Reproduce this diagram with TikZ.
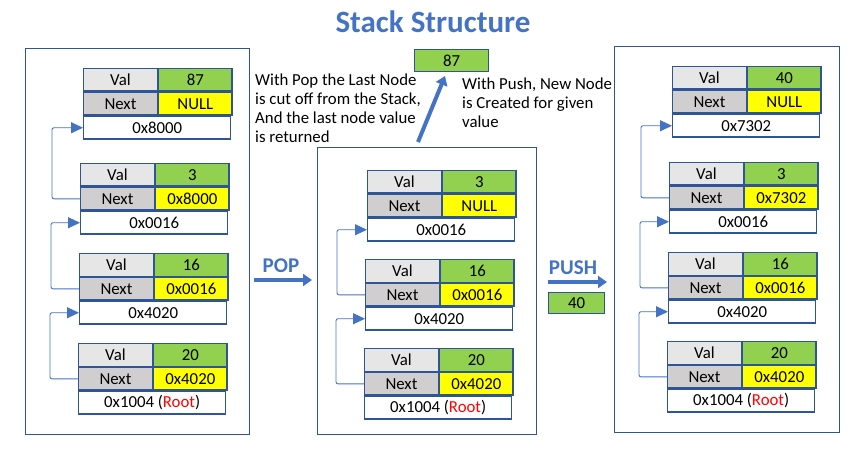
\documentclass[tikz,border=0pt]{standalone}
\usepackage{fontspec}
\setmainfont{Carlito}
\usepackage{tikz}
\usetikzlibrary{calc}
\usetikzlibrary{arrows.meta}

\definecolor{linkblue}{HTML}{4472C4}
\definecolor{edgeblue}{HTML}{2F5597}
\definecolor{valgray}{HTML}{E7E6E6}
\definecolor{nextgray}{HTML}{D0CECE}
\definecolor{valgreen}{HTML}{92D050}
\definecolor{ptryellow}{HTML}{FFFF00}

\begin{document}
\begin{tikzpicture}[x=1pt, y=-1pt,
  cell/.style={draw=edgeblue, line width=1.4pt, minimum width=73.5pt, minimum height=22.5pt,
    inner sep=0pt, anchor=north west, font=\fontsize{16.8}{19}\selectfont},
  frame/.style={draw=edgeblue, line width=1pt},
  link/.style={linkblue, line width=0.9pt, rounded corners=2pt, -{Triangle[length=12pt,width=11pt]}},
  big/.style={linkblue, line width=4pt, -{Triangle[length=9pt,width=12pt]}},
  note/.style={align=left, anchor=north west, inner sep=0pt, font=\fontsize{16.8}{19}\selectfont},
  oplabel/.style={text=linkblue, font=\fontsize{21}{24}\selectfont\bfseries, inner sep=0pt}]

\useasboundingbox (0,0) rectangle (865,457);

\node[text=linkblue, font=\fontsize{31}{36}\selectfont\bfseries] (title) at (433,22) {Stack Structure};

% the three stacks
\draw[frame] (25,49) rectangle (249,434);
\draw[frame] (317,148) rectangle (536,434);
\draw[frame] (614,47) rectangle (839,432);

\foreach \n/\x/\y/\v/\p/\a in {
  a1/83/68/87/NULL/0x8000, a2/80/163/3/0x8000/0x0016, a3/79/253/16/0x0016/0x4020,
  a4/78/343/20/0x4020/{0x1004 (\textcolor{red}{Root})},
  b1/367/170/3/NULL/0x0016, b2/365/259/16/0x0016/0x4020,
  b3/364/348/20/0x4020/{0x1004 (\textcolor{red}{Root})},
  c1/672/66/40/NULL/0x7302, c2/669/162/3/0x7302/0x0016, c3/668/252/16/0x0016/0x4020,
  c4/667/341/20/0x4020/{0x1004 (\textcolor{red}{Root})}}
{
  \node[cell, fill=valgray] (\n-vl) at (\x,\y) {Val};
  \node[cell, fill=valgreen] (\n-vv) at (\n-vl.north east) {\v};
  \node[cell, fill=nextgray] (\n-nl) at (\n-vl.south west) {Next};
  \node[cell, fill=ptryellow] (\n-nv) at (\n-nl.north east) {\p};
  \node[cell, minimum width=147pt] (\n-ad) at (\n-nl.south west) {\a};
}

% next pointers
\foreach \s/\t in {a2/a1, a3/a2, a4/a3, b2/b1, b3/b2, c2/c1, c3/c2, c4/c3}
  \draw[link] (\s-nl.west) -- ++(-28,0) |- (\t-ad.west);

% pop
\node[cell, fill=valgreen, minimum width=74pt, minimum height=22pt] (popped) at (414,49) {87};
\coordinate (rettail) at (418,142);
\coordinate (rethead) at (445,76);
\draw[big] (rettail) -- (rethead);

\node[note] (popnote) at (255,74) {With Pop the Last Node\\is cut off from the Stack,\\And the last node value\\is returned};
\node[note] (pushnote) at (462,78) {With Push, New Node\\is Created for given\\value};

\node[oplabel] (poplabel) at (281,266) {POP};
\coordinate (poptail) at (254,280);
\coordinate (pophead) at (312,280);
\draw[big] (poptail) -- (pophead);

% push
\node[oplabel] (pushlabel) at (573,268) {PUSH};
\coordinate (pushtail) at (548,282);
\coordinate (pushhead) at (607,282);
\draw[big] (pushtail) -- (pushhead);
\node[cell, fill=valgreen, minimum width=56pt, minimum height=21pt] (pushed) at (548,292) {40};

\end{tikzpicture}
\end{document}
